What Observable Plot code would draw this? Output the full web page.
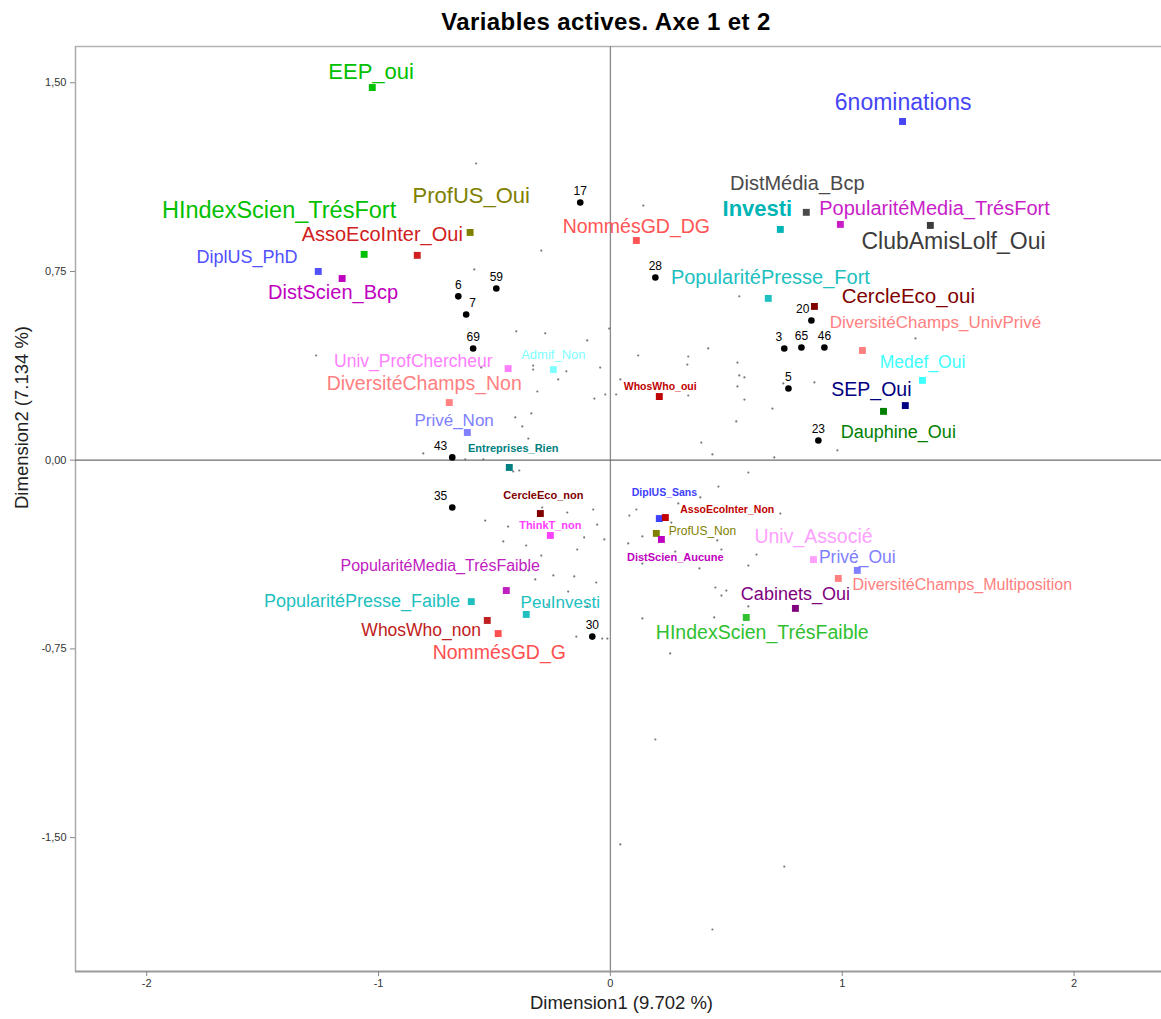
<!DOCTYPE html>
<html>
<head>
<meta charset="utf-8">
<script src="https://cdn.jsdelivr.net/npm/d3@7"></script>
<script src="https://cdn.jsdelivr.net/npm/@observablehq/plot@0.6"></script>
<style>
  body { margin: 0; background: #fff; font-family: "Liberation Sans", Arial, sans-serif; }
  #title { width: 1161px; height: 36px; box-sizing: border-box; padding-top: 8px; padding-left: 51px;
           line-height: 28px; text-align: center; font-weight: bold; font-size: 24px; letter-spacing: 0.4px; color: #000; }
</style>
</head>
<body>
<div id="title">Variables actives. Axe 1 et 2</div>
<div id="chart"></div>
<script>
// ---------- axes ----------
const xDomain = [-2.307, 2.377];
const yDomain = [-2.032, 1.644];
const xTicks = [-2, -1, 0, 1, 2];
const yTicks = [-1.5, -0.75, 0, 0.75, 1.5];
const xLabel = "Dimension1 (9.702 %)";
const yLabel = "Dimension2 (7.134 %)";

// ---------- active modalities (categories) ----------
const modName = ["EEP_oui","6nominations","DistMédia_Bcp","Investi","PopularitéMedia_TrésFort","ClubAmisLolf_Oui",
  "ProfUS_Oui","HIndexScien_TrésFort","AssoEcoInter_Oui","NommésGD_DG","DiplUS_PhD","DistScien_Bcp",
  "PopularitéPresse_Fort","CercleEco_oui","DiversitéChamps_UnivPrivé","Medef_Oui","SEP_Oui","Dauphine_Oui",
  "WhosWho_oui","Admif_Non","Univ_ProfChercheur","DiversitéChamps_Non","Privé_Non","Entreprises_Rien",
  "CercleEco_non","ThinkT_non","DiplUS_Sans","AssoEcoInter_Non","ProfUS_Non","DistScien_Aucune",
  "Univ_Associé","Privé_Oui","DiversitéChamps_Multiposition","Cabinets_Oui","HIndexScien_TrésFaible",
  "PopularitéMedia_TrésFaible","PopularitéPresse_Faible","PeuInvesti","WhosWho_non","NommésGD_G"];
const modX = [-1.027,1.260,0.845,0.733,0.992,1.380,
  -0.605,-1.062,-0.833,0.112,-1.260,-1.157,
  0.681,0.880,1.087,1.346,1.272,1.178,
  0.211,-0.246,-0.441,-0.695,-0.617,-0.436,
  -0.302,-0.259,0.211,0.237,0.198,0.220,
  0.876,1.065,0.983,0.798,0.586,
  -0.449,-0.600,-0.363,-0.531,-0.484];
const modY = [1.481,1.346,0.985,0.917,0.937,0.933,
  0.905,0.818,0.814,0.873,0.750,0.722,
  0.643,0.611,0.436,0.317,0.217,0.194,
  0.253,0.360,0.364,0.229,0.110,-0.029,
  -0.212,-0.299,-0.232,-0.228,-0.291,-0.315,
  -0.395,-0.438,-0.470,-0.589,-0.625,
  -0.518,-0.562,-0.613,-0.637,-0.689];
// where each modality's label sits (data units)
const modLabelX = [-1.032,1.263,0.806,0.634,1.398,1.480,
  -0.600,-1.429,-0.984,0.112,-1.567,-1.196,
  0.690,1.285,1.402,1.346,1.126,1.242,
  0.215,-0.246,-0.850,-0.803,-0.674,-0.419,
  -0.289,-0.259,0.233,0.504,0.397,0.280,
  0.876,1.065,1.518,0.798,0.655,
  -0.734,-1.071,-0.216,-0.816,-0.479];
const modLabelY = [1.541,1.422,1.100,1.000,1.000,0.869,
  1.052,0.992,0.897,0.929,0.806,0.667,
  0.726,0.651,0.547,0.388,0.281,0.110,
  0.293,0.420,0.392,0.305,0.158,0.047,
  -0.140,-0.260,-0.128,-0.196,-0.283,-0.387,
  -0.303,-0.387,-0.494,-0.534,-0.685,
  -0.422,-0.562,-0.566,-0.677,-0.764];

// ---------- labelled individuals ----------
const indId = ["17","28","6","59","7","69","43","35","30","20","3","65","46","5","23"];
const indX = [-0.130,0.194,-0.656,-0.492,-0.622,-0.592,-0.682,-0.682,-0.078,0.867,0.750,0.824,0.923,0.768,0.897];
const indY = [1.024,0.726,0.651,0.682,0.579,0.444,0.011,-0.188,-0.701,0.555,0.444,0.448,0.448,0.285,0.078];

// ---------- other individuals ----------
const grayX = [-0.579,-0.298,-0.587,0.142,-0.406,-0.281,-0.100,-0.005,-1.269,-0.557,-0.333,-0.333,-0.190,-0.225,
  -0.315,-0.069,-0.341,-0.410,-0.380,-0.354,-0.807,-0.626,-0.548,-0.044,0.120,0.043,-0.022,0.025,
  0.556,0.422,0.336,0.332,0.548,0.556,0.578,0.548,0.336,0.578,0.699,0.543,0.392,0.440,0.707,0.746,0.880,1.316,0.979,
  -0.419,-0.393,0.595,0.466,0.388,0.293,0.112,0.082,0.733,0.263,0.138,-0.026,0.077,0.461,0.280,0.479,0.630,
  0.138,0.384,0.595,0.453,0.479,0.500,0.595,0.138,0.448,0.258,-0.035,-0.013,
  -0.294,-0.186,-0.074,-0.540,-0.441,-0.057,-0.462,-0.363,-0.113,-0.143,-0.298,-0.354,-0.324,-0.246,-0.156,
  -0.061,-0.182,-0.272,-0.100,-0.147,0.194,0.043,0.750,0.440];
const grayY = [1.179,0.833,0.758,1.012,0.512,0.504,0.476,0.523,0.416,0.368,0.376,0.360,0.353,0.321,
  0.273,0.245,0.186,0.170,0.134,0.086,0.027,0.003,0.003,0.368,0.416,0.321,0.261,0.261,
  0.651,0.444,0.412,0.380,0.388,0.337,0.329,0.293,0.257,0.241,0.205,0.154,0.070,0.023,0.011,0.305,0.309,0.484,0.039,
  -0.045,-0.041,-0.049,-0.105,-0.148,-0.172,-0.196,-0.220,-0.212,-0.248,-0.303,-0.315,-0.331,-0.319,-0.363,-0.355,-0.375,
  -0.411,-0.430,-0.419,-0.506,-0.538,-0.518,-0.581,-0.629,-0.625,-0.768,-0.709,-0.709,
  -0.188,-0.208,-0.196,-0.240,-0.264,-0.256,-0.323,-0.339,-0.307,-0.355,-0.379,-0.438,-0.474,-0.458,-0.462,
  -0.486,-0.522,-0.574,-0.581,-0.701,-1.110,-1.527,-1.615,-1.865];

// ---------- styles (colour, font size, bold) ----------
const modStyle = {
  "EEP_oui": ["#00c000", 22, false], "6nominations": ["#4545f5", 23, false],
  "DistMédia_Bcp": ["#4a4a4a", 20, false], "Investi": ["#00b5b5", 22, true],
  "PopularitéMedia_TrésFort": ["#c81ec8", 20, false], "ClubAmisLolf_Oui": ["#3c3c3c", 23, false],
  "ProfUS_Oui": ["#808000", 22, false], "HIndexScien_TrésFort": ["#00c000", 23.5, false],
  "AssoEcoInter_Oui": ["#d02020", 20, false], "NommésGD_DG": ["#ff5555", 19.5, false],
  "DiplUS_PhD": ["#5050ff", 18, false], "DistScien_Bcp": ["#c000c0", 20, false],
  "PopularitéPresse_Fort": ["#20c0c0", 20, false], "CercleEco_oui": ["#800000", 20.5, false],
  "DiversitéChamps_UnivPrivé": ["#ff8080", 17, false], "Medef_Oui": ["#40ffff", 17.5, false],
  "SEP_Oui": ["#000080", 19.5, false], "Dauphine_Oui": ["#008000", 18, false],
  "WhosWho_oui": ["#c00000", 10.5, true], "Admif_Non": ["#80ffff", 13, false],
  "Univ_ProfChercheur": ["#ff80ff", 17.5, false], "DiversitéChamps_Non": ["#ff8080", 19.5, false],
  "Privé_Non": ["#8080ff", 17, false], "Entreprises_Rien": ["#008080", 11, true],
  "CercleEco_non": ["#800000", 11, true], "ThinkT_non": ["#ff40ff", 11, true],
  "DiplUS_Sans": ["#4040ff", 10.5, true], "AssoEcoInter_Non": ["#c00000", 10.5, true],
  "ProfUS_Non": ["#808000", 12, false], "DistScien_Aucune": ["#c000c0", 11, true],
  "Univ_Associé": ["#ffa0ff", 19.5, false], "Privé_Oui": ["#8080ff", 17.5, false],
  "DiversitéChamps_Multiposition": ["#ff8080", 16, false], "Cabinets_Oui": ["#800080", 18, false],
  "HIndexScien_TrésFaible": ["#30c030", 19.5, false], "PopularitéMedia_TrésFaible": ["#c020c0", 16, false],
  "PopularitéPresse_Faible": ["#20c0c0", 18, false], "PeuInvesti": ["#20c0c0", 17, false],
  "WhosWho_non": ["#c02020", 17.5, false], "NommésGD_G": ["#ff5050", 19.5, false]
};
const indLabelPlacement = { "43": ["end", -5], "35": ["end", -5], "20": ["end", -2], "3": ["end", -2], "7": ["start", 3] };

// ---------- build tables ----------
const mods = modName.map((name, i) => ({
  name, x: modX[i], y: modY[i], lx: modLabelX[i], ly: modLabelY[i],
  color: modStyle[name][0], size: modStyle[name][1], bold: modStyle[name][2]
}));
const inds = indId.map((id, i) => ({ id, x: indX[i], y: indY[i] }));
const grays = grayX.map((x, i) => ({ x, y: grayY[i] }));

const fmtY = d => d3.format(".2f")(d).replace(".", ",").replace("\u2212", "-");
const fmtX = d => String(d);

const indMid = inds.filter(d => !indLabelPlacement[d.id]);
const indOff = inds.filter(d => indLabelPlacement[d.id]);

const marks = [
  // frame lines
  Plot.ruleY([yDomain[1]], { stroke: "#b4b4b4", strokeWidth: 1.5 }),
  Plot.ruleX([xDomain[0]], { stroke: "#ababab", strokeWidth: 1.5 }),
  // origin lines
  Plot.ruleX([0], { stroke: "#8a8a8a", strokeWidth: 1.3 }),
  Plot.ruleY([0], { stroke: "#6e6e6e", strokeWidth: 1.3 }),
  Plot.ruleY([yDomain[0]], { stroke: "#9a9a9a", strokeWidth: 2 }),
  // axes
  Plot.axisX({ ticks: xTicks, tickFormat: fmtX, tickSize: 5, tickPadding: 3, fontSize: 11, stroke: "#888", fill: "#333", label: null }),
  Plot.axisY({ ticks: yTicks, tickFormat: fmtY, tickSize: 5, tickPadding: 4, fontSize: 11, stroke: "#888", fill: "#333", label: null }),
  Plot.text([xLabel], { frameAnchor: "bottom", dy: 37, dx: 3, fontSize: 18.5, fill: "#222" }),
  Plot.text([yLabel], { frameAnchor: "left", dx: -53, rotate: -90, fontSize: 18.5, fill: "#222" }),
  // other individuals
  Plot.dot(grays, { x: "x", y: "y", r: 1.1, fill: "#777", stroke: null }),
  // labelled individuals
  Plot.dot(inds, { x: "x", y: "y", r: 3.3, fill: "#000", stroke: null }),
  Plot.text(indMid, { x: "x", y: "y", text: "id", dy: -11, fontSize: 12, fill: "#000" }),
  ...indOff.map(d => Plot.text([d], { x: "x", y: "y", text: "id", dy: -11, dx: indLabelPlacement[d.id][1],
      textAnchor: indLabelPlacement[d.id][0], fontSize: 12, fill: "#000" })),
  // modalities
  Plot.dot(mods, { x: "x", y: "y", symbol: "square", r: 3.9, fill: "color", stroke: null }),
  Plot.text(mods.filter(d => !d.bold), { x: "lx", y: "ly", text: "name", fill: "color", fontSize: "size" }),
  Plot.text(mods.filter(d => d.bold && d.size < 15), { x: "lx", y: "ly", text: "name", fill: "color", fontSize: "size",
      fontWeight: "bold", ariaLabel: "small-bold" }),
  Plot.text(mods.filter(d => d.bold && d.size >= 15), { x: "lx", y: "ly", text: "name", fill: "color", fontSize: "size",
      fontWeight: "bold" })
];

const chart = Plot.plot({
  width: 1161,
  height: 983,
  marginTop: 10,
  marginBottom: 48,
  marginLeft: 75,
  marginRight: 0,
  x: { domain: xDomain },
  y: { domain: yDomain },
  color: { type: "identity" },
  style: { fontFamily: "'Liberation Sans', Arial, sans-serif", fontSize: "11px", background: "#fff", overflow: "visible" },
  marks
});
const g = chart.querySelector('g[aria-label="small-bold"]');
if (g) g.setAttribute("letter-spacing", "0.8");
document.getElementById("chart").appendChild(chart);
</script>
</body>
</html>
